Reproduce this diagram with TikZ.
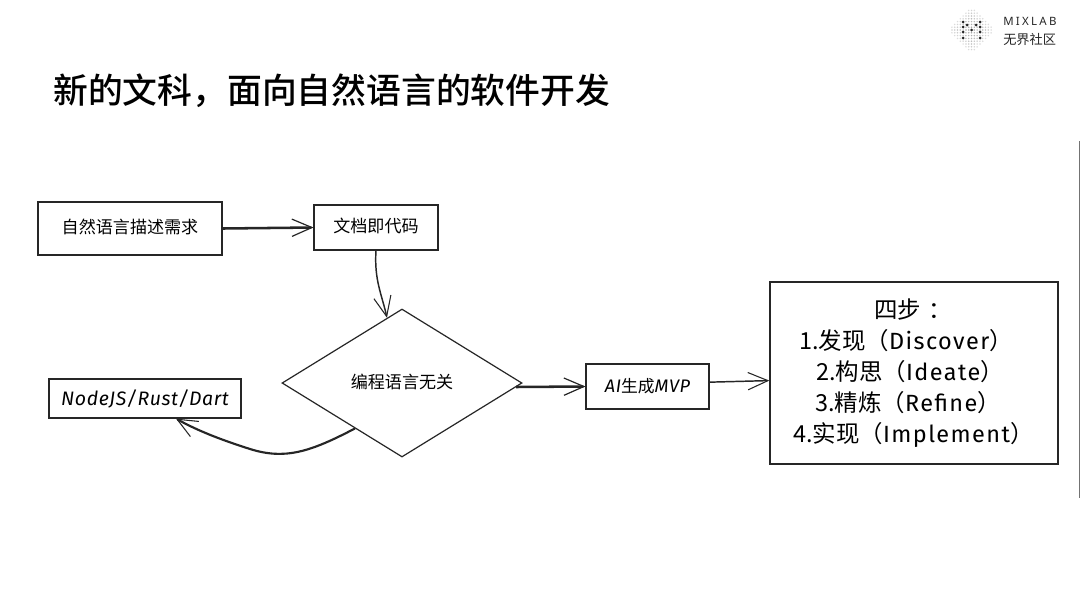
\documentclass[tikz,border=0pt]{standalone}
\usepackage{fontspec}
\usetikzlibrary{shapes.geometric,arrows.meta}
\setmainfont{Noto Sans CJK SC}
\newfontfamily\titlefont{Noto Sans CJK SC Medium}
\newfontfamily\handfont[LetterSpace=6]{Fira Sans}
\newfontfamily\handit[LetterSpace=3]{Fira Sans Italic}
\newfontfamily\logofont[LetterSpace=20]{Noto Sans}
\newcommand{\lineshift}[1]{\hspace*{-#1pt}}
\tikzset{
  x=0.75pt,y=-0.75pt,
  ink/.style={draw=black!85!white},
  box/.style={ink,line width=1.1pt,inner sep=0pt,align=center,font=\fontsize{12.8}{15}\selectfont},
  flow/.style={ink,line width=1.1pt,-{Straight Barb[length=15pt,width=13pt,line width=0.8pt]}},
  heavy/.style={flow,line width=1.9pt,-{Straight Barb[length=15pt,width=13pt,line width=0.9pt]}},
}
\begin{document}
\begin{tikzpicture}
\useasboundingbox (0,0) rectangle (1080,608);
\fill[white] (0,0) rectangle (1080,608);
% logo
\foreach \i in {-7,...,7}{
  \foreach \j in {-7,...,7}{
    \pgfmathtruncatemacro{\dist}{abs(\i)+abs(\j)}
    \ifnum\dist<9
      \pgfmathsetmacro{\shade}{max(10,38-3*\dist)}
      \fill[black!\shade] ({971.5+\i*2.8},{30+\j*2.8}) circle (0.85);
    \fi
  }
}
\foreach \px/\py in {963/22,963/27,963/32,963/38,980/22,980/27,980/32,980/38,967/25,976/25,971.5/30}{
  \fill[black!85] (\px,\py) circle (1.5);
}
\node[anchor=west,inner sep=0pt,text=black!85,font=\logofont\fontsize{8.6}{10}\selectfont] (logoa) at (1003,21.5) {MIXLAB};
\node[anchor=west,inner sep=0pt,text=black!85,font=\fontsize{9.9}{12}\selectfont] (logob) at (1003,39.5) {无界社区};
% title
\node[anchor=west,inner sep=0pt,text=black,font=\titlefont\fontsize{26.1}{30}\selectfont] (title) at (53,91) {新的文科，面向自然语言的软件开发};
% right rule
\draw[black!55,line width=0.6pt] (1079.5,141) -- (1079.5,498);
% nodes
\node[box,minimum width=138pt,minimum height=39.75pt,text depth=3pt] (a) at (130,228.5) {自然语言描述需求};
\node[box,line width=0.9pt,minimum width=93pt,minimum height=33.75pt,text depth=3pt] (b) at (376,227.5) {文档即代码};
\node[draw=black!85,line width=0.9pt,shape=diamond,inner sep=0pt,minimum width=180pt,minimum height=111pt,font=\fontsize{12.8}{15}\selectfont,text depth=3pt] (dia) at (402,383) {编程语言无关};
\node[box,line width=0.9pt,minimum width=92.25pt,minimum height=33.75pt,font=\handit\fontsize{13.6}{15}\selectfont] (c) at (647.5,386.5) {AI{\normalfont\fontsize{12.6}{15}\selectfont 生成}MVP};
\node[box,line width=0.9pt,minimum width=144pt,minimum height=29.25pt,font=\handit\fontsize{14.6}{15}\selectfont] (d) at (145,398.5) {NodeJS/Rust/Dart};
\node[box,minimum width=216pt,minimum height=136.5pt,font=\fontsize{17.6}{23.2}\selectfont] (e) at (914,373) {\lineshift{1}四步\,\,：\\
\lineshift{12}1.发现（{\handfont Discover}）\\
\lineshift{6}2.构思（{\handfont Ideate}）\\
\lineshift{9}3.精炼（{\handfont Refine}）\\
\lineshift{1}4.实现（{\handfont Implement}）};
% connectors
\draw[heavy] (a.east) -- (b.west);
\draw[flow] (b.south) .. controls (374,280) and (382,295) .. (dia.103);
\draw[heavy] (dia.-2) -- (c.west);
\draw[flow] (c.4) -- (e.183);
\draw[flow,line width=1.6pt] (dia.224) .. controls (310,452) and (285,460) .. (250,449) .. controls (225,441) and (200,432) .. (d.-33);
\end{tikzpicture}
\end{document}
